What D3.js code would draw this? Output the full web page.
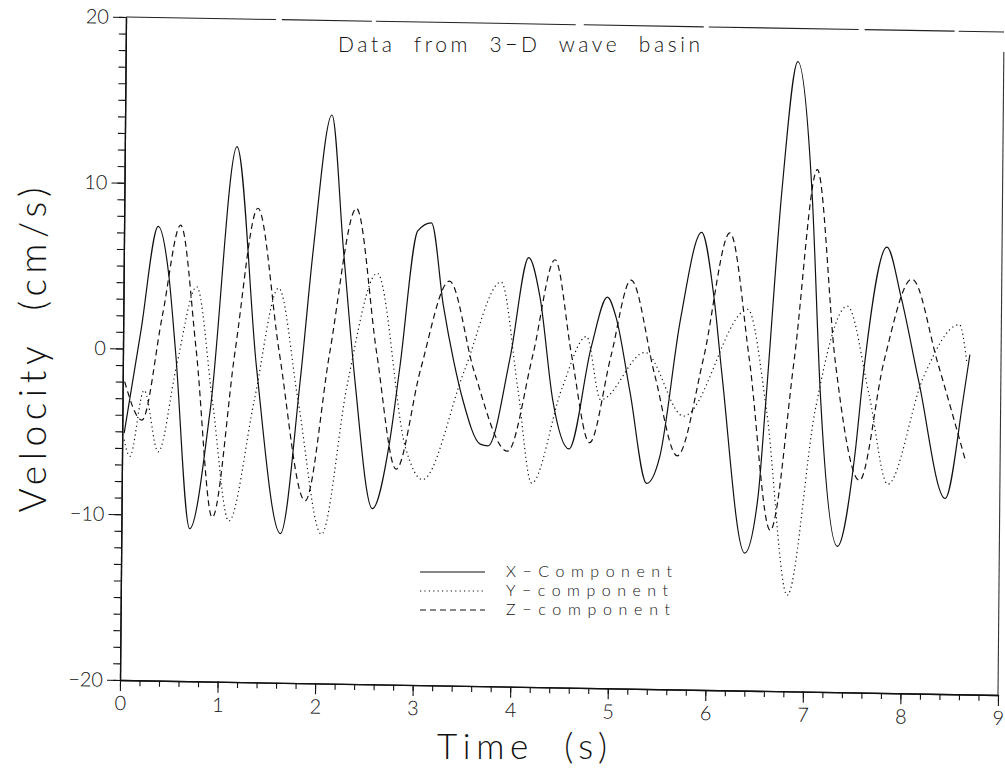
<!DOCTYPE html>
<html><head><meta charset="utf-8">
<script src="https://cdn.jsdelivr.net/npm/d3@7"></script>
<style>
html,body{margin:0;padding:0;background:#fff;}
svg{display:block;}
text{font-family:Lato,"Open Sans","DejaVu Sans",sans-serif;font-weight:300;fill:#111;}
</style></head>
<body>
<script>
// ---- data (time s, velocity cm/s) ----
const xComponent = [
 [0.02,-5.1],[0.18,1.0],[0.35,7.4],[0.46,4.6],[0.54,-0.2],[0.70,-10.8],[0.90,-3.6],
 [1.15,12.3],[1.37,-1.0],[1.63,-11.0],[1.82,-1.7],[1.94,6.1],[2.12,14.3],[2.25,6.2],
 [2.38,-1.7],[2.57,-9.4],[2.74,-5.4],[2.84,-0.8],[3.01,7.4],[3.15,7.9],[3.28,2.9],
 [3.39,-0.4],[3.49,-2.8],[3.67,-5.4],[3.75,-5.5],[3.97,-0.1],[4.15,5.9],[4.27,3.5],
 [4.41,-2.7],[4.58,-5.6],[4.80,0.6],[4.96,3.6],[5.05,2.4],[5.20,-2.1],[5.38,-7.6],
 [5.51,-6.0],[5.71,2.3],[5.92,7.6],[6.05,3.8],[6.14,-0.9],[6.39,-11.7],[6.52,-8.4],
 [6.59,-2.8],[6.74,10.3],[6.89,18.0],[7.05,9.9],[7.15,-1.9],[7.34,-11.2],[7.51,-5.7],
 [7.59,-0.8],[7.82,6.9],[7.97,3.9],[8.16,-1.2],[8.44,-8.2],[8.62,-2.0],[8.68,0.5]
];
const yComponent = [
 [0.02,-5.5],[0.08,-6.5],[0.22,-2.5],[0.37,-6.2],[0.55,-1.0],[0.75,3.8],[0.92,-3.0],
 [1.10,-10.3],[1.35,-3.0],[1.59,3.8],[1.80,-3.0],[2.05,-11.0],[2.30,-2.0],[2.60,4.8],
 [2.90,-5.6],[3.08,-7.6],[3.50,-1.0],[3.87,4.4],[4.05,-2.0],[4.20,-7.7],[4.50,-2.0],
 [4.75,1.2],[4.90,-2.6],[5.35,0.3],[5.75,-3.5],[6.40,3.0],[6.60,-3.0],[6.83,-14.2],
 [7.10,-3.0],[7.42,3.3],[7.65,-2.0],[7.85,-7.4],[8.20,-1.0],[8.57,2.3],[8.65,0.0]
];
const zComponent = [
 [0.02,-2.0],[0.20,-4.3],[0.40,2.0],[0.58,7.5],[0.75,0.0],[0.93,-10.1],[1.15,0.0],
 [1.37,8.6],[1.60,0.0],[1.88,-9.0],[2.12,0.0],[2.38,8.7],[2.60,0.0],[2.81,-7.0],
 [3.05,-1.0],[3.34,4.4],[3.60,-1.0],[3.95,-5.8],[4.20,0.0],[4.42,5.8],[4.60,0.0],
 [4.79,-5.2],[5.00,0.0],[5.20,4.65],[5.45,-1.0],[5.69,-5.9],[5.95,0.0],[6.21,7.6],
 [6.42,0.0],[6.65,-10.3],[6.88,0.0],[7.10,11.5],[7.30,0.0],[7.56,-7.2],[7.80,0.0],
 [8.08,5.0],[8.35,0.0],[8.65,-6.0]
];
const xTickValues = [0,1,2,3,4,5,6,7,8,9];
const xTickLabels = ["0","1","2","3","4","5","6","7","8","9"];
const yTickValues = [-20,-10,0,10,20];
const yTickLabels = ["\u221220","\u221210","0","10","20"];
const seriesNames = ["X\u2212Component","Y\u2212component","Z\u2212component"];
const titleText = "Data  from  3\u2212D  wave  basin";

// ---- layout ----
const W = 1005, H = 771;
const pw = 878.4, ph = 663;
const svg = d3.select("body").append("svg").attr("width",W).attr("height",H);

const x = d3.scaleLinear().domain([0,9]).range([0,pw]);
const y = d3.scaleLinear().domain([-20,20]).range([ph,0]);

// slight scan skew of the original plot frame
const g = svg.append("g").attr("transform","matrix(0.99955,0.01708,-0.00905,1,126,17)");

const axisStyle = sel => {
  sel.select(".domain").attr("stroke","#111").attr("stroke-width",1.3);
  sel.selectAll(".tick line").attr("stroke","#111").attr("stroke-width",1.1);
};
const labelStyle = s => s.selectAll("text").attr("font-size",20).attr("font-family","Lato")
  .attr("font-weight",300).attr("fill","#111");

// minor ticks
g.append("g").attr("transform",`translate(0,${ph})`)
 .call(d3.axisBottom(x).tickValues(d3.range(0,46).map(i=>i*0.2)).tickSize(6).tickFormat("").tickSizeOuter(0))
 .call(axisStyle);
g.append("g")
 .call(d3.axisLeft(y).tickValues(d3.range(-20,21)).tickSize(7).tickFormat("").tickSizeOuter(0))
 .call(axisStyle);
// major ticks with labels
g.append("g").attr("transform",`translate(0,${ph})`)
 .call(d3.axisBottom(x).tickValues(xTickValues).tickSize(11).tickPadding(5)
   .tickFormat((d,i)=>xTickLabels[i]).tickSizeOuter(0))
 .call(axisStyle).call(labelStyle);
g.append("g")
 .call(d3.axisLeft(y).tickValues(yTickValues).tickSize(13).tickPadding(4)
   .tickFormat((d,i)=>yTickLabels[i]).tickSizeOuter(0))
 .call(axisStyle).call(labelStyle);

// frame: top and right
g.append("line").attr("x1",x(0)).attr("x2",x(9)).attr("y1",y(20)).attr("y2",y(20))
 .attr("stroke","#222").attr("stroke-width",1.1).attr("stroke-dasharray","150,6,90,4,200,8,120,5");
g.append("line").attr("x1",x(9)).attr("x2",x(9)).attr("y1",y(20)+20).attr("y2",y(-20))
 .attr("stroke","#333").attr("stroke-width",1.1);

// curves
const line = d3.line().x(d=>x(d[0])).y(d=>y(d[1])).curve(d3.curveMonotoneX);
const styles = [
  {data:xComponent, dash:null, w:1.2},
  {data:yComponent, dash:"1.2,3.2", w:1.2},
  {data:zComponent, dash:"6,4", w:1.2}
];
styles.forEach(s=>{
  g.append("path").datum(s.data).attr("d",line).attr("fill","none")
   .attr("stroke","#111").attr("stroke-width",s.w)
   .attr("stroke-dasharray",s.dash);
});

// title
svg.append("text").attr("x",338).attr("y",52).attr("font-size",21)
 .style("white-space","pre")
 .attr("textLength",362).attr("lengthAdjust","spacing").text(titleText);

// legend
const legY = [572,591,610];
const legDash = [null,"1.2,3.2","6,4"];
seriesNames.forEach((n,i)=>{
  svg.append("line").attr("x1",420).attr("x2",485).attr("y1",legY[i]).attr("y2",legY[i])
   .attr("stroke","#111").attr("stroke-width",1.2).attr("stroke-dasharray",legDash[i]);
  svg.append("text").attr("x",506).attr("y",legY[i]+5).attr("font-size",16)
   .attr("textLength",[166,162,164][i]).attr("lengthAdjust","spacing").text(n);
});

// axis titles
svg.append("text").attr("x",522).attr("y",759).attr("text-anchor","middle")
 .style("white-space","pre")
 .attr("font-size",35).attr("textLength",170).attr("lengthAdjust","spacing").text("Time  (s)");
svg.append("text").attr("transform","translate(46,350) rotate(-90)").attr("text-anchor","middle")
 .style("white-space","pre")
 .attr("font-size",37).attr("textLength",325).attr("lengthAdjust","spacing").text("Velocity  (cm/s)");
</script>
</body></html>
